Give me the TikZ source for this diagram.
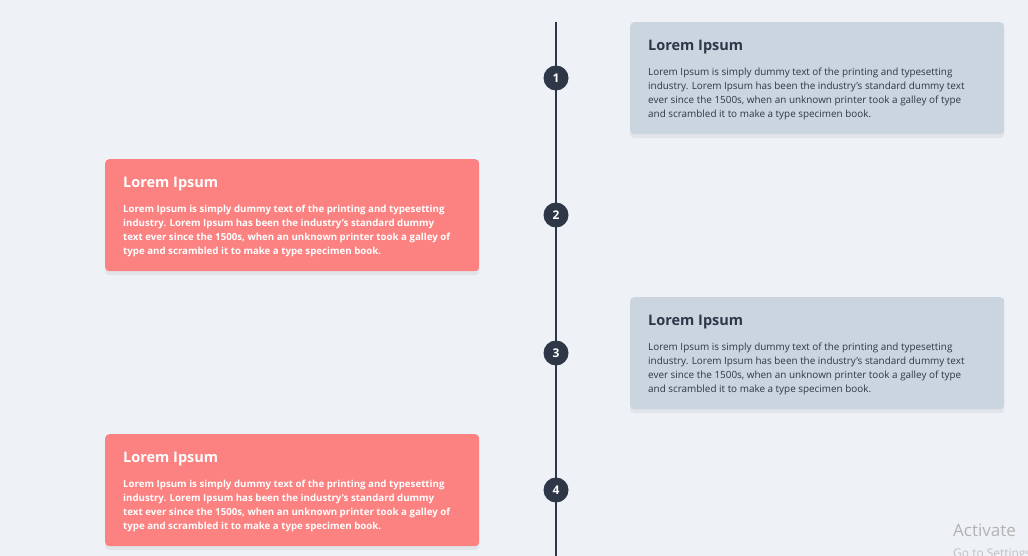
\documentclass[tikz,border=0pt]{standalone}
\usepackage{fontspec}
\setmainfont{Open Sans}
\usetikzlibrary{shadows}
\definecolor{bg}{HTML}{EEF2F7}
\definecolor{graycard}{HTML}{CBD5E0}
\definecolor{redcard}{HTML}{FC8181}
\definecolor{dark}{HTML}{2D3748}
\tikzset{
 card/.style={rounded corners=4pt, draw=none, minimum width=374pt, minimum height=112pt, anchor=north west,
   drop shadow={shadow xshift=0pt, shadow yshift=-4pt, opacity=0.05, fill=black}},
 rcard/.style={card, fill=graycard},
 lcard/.style={card, fill=redcard},
 num/.style={circle, fill=dark, text=white, minimum size=25pt, inner sep=0pt, font=\fontsize{12}{12}\selectfont\bfseries},
 ttl/.style={anchor=north west, inner sep=0pt, font=\fontsize{14.5}{14.5}\selectfont\bfseries},
 body/.style={anchor=north west, inner sep=0pt, align=left, font=\fontsize{9.9}{14}\selectfont},
}
\newcommand{\bodytxtR}{Lorem Ipsum is simply dummy text of the printing and typesetting\\industry. Lorem Ipsum has been the industry's standard dummy text\\ever since the 1500s, when an unknown printer took a galley of type\\and scrambled it to make a type specimen book.}
\newcommand{\bodytxtL}{Lorem Ipsum is simply dummy text of the printing and typesetting\\industry. Lorem Ipsum has been the industry's standard dummy\\text ever since the 1500s, when an unknown printer took a galley of\\type and scrambled it to make a type specimen book.}
\begin{document}
\begin{tikzpicture}[x=1pt,y=-1pt]
\fill[bg] (0,0) rectangle (1028,556);
\useasboundingbox (0,0) rectangle (1028,556);
\draw[dark, line width=2pt] (556,22) coordinate (top) -- (556,556) coordinate (bot);
\foreach \i/\y in {1/78,2/215,3/353,4/490}{\node[num] (n\i) at (556,\y) {\i};}
\foreach \i/\y in {1/22,3/297}{
 \node[rcard] (c\i) at (630,\y) {};
 \node[ttl, text=dark] (t\i) at (648,\y+18) {Lorem Ipsum};
 \node[body, text=dark] (b\i) at (648,\y+46) {\bodytxtR};
}
\foreach \i/\y in {2/159,4/434}{
 \node[lcard] (c\i) at (105,\y) {};
 \node[ttl, text=white] (t\i) at (123,\y+18) {Lorem Ipsum};
 \node[body, text=white, font=\fontsize{9.7}{14}\selectfont\bfseries] (b\i) at (123,\y+46) {\bodytxtL};
}
\begin{scope}
\clip (0,0) rectangle (1028,556);
\node[anchor=north west, inner sep=0pt, text=gray!60, font=\fontsize{17}{17}\selectfont] (act) at (953,524) {Activate};
\node[anchor=north west, inner sep=0pt, text=gray!50, font=\fontsize{12}{12}\selectfont] (go) at (953,548) {Go to Settings};
\end{scope}
\end{tikzpicture}
\end{document}
